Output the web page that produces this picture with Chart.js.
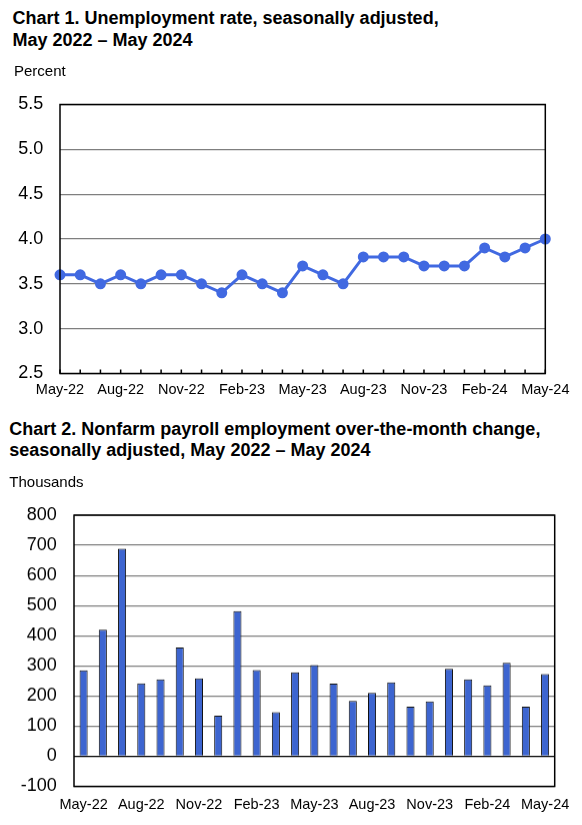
<!DOCTYPE html>
<html>
<head>
<meta charset="utf-8">
<script src="https://cdn.jsdelivr.net/npm/chart.js@4"></script>
<style>
    body { margin: 0; background: #fff; font-family: "Liberation Sans", Arial, sans-serif; }
    #page { position: relative; width: 582px; height: 825px; overflow: hidden; }
    .title { position: absolute; font-weight: bold; font-size: 18px; color: #000; white-space: nowrap; }
    .unit { position: absolute; font-size: 15px; color: #000; }
    .box { position: absolute; left: 0; width: 582px; }
</style>
</head>
<body>
<div id="page">
    <div class="box" style="top:76.8px; height:335px;"><canvas id="rateChart"></canvas></div>
    <div class="box" style="top:487.2px; height:337.8px;"><canvas id="payrollChart"></canvas></div>

    <div class="title" style="left:12.5px; top:7px; line-height:22px;">Chart 1. Unemployment rate, seasonally adjusted,<br>May 2022 – May 2024</div>
    <div class="unit" style="left:14px; top:62.4px;">Percent</div>

    <div class="title" style="left:9.3px; top:419px; line-height:20.5px;">Chart 2. Nonfarm payroll employment over-the-month change,<br>seasonally adjusted, May 2022 – May 2024</div>
    <div class="unit" style="left:9.3px; top:473.4px;">Thousands</div>
</div>
<script>
// Data
const months = ['May-22', 'Jun-22', 'Jul-22', 'Aug-22', 'Sep-22', 'Oct-22', 'Nov-22', 'Dec-22', 'Jan-23',
    'Feb-23', 'Mar-23', 'Apr-23', 'May-23', 'Jun-23', 'Jul-23', 'Aug-23', 'Sep-23', 'Oct-23', 'Nov-23',
    'Dec-23', 'Jan-24', 'Feb-24', 'Mar-24', 'Apr-24', 'May-24'];
const unemploymentRate = [3.6, 3.6, 3.5, 3.6, 3.5, 3.6, 3.6, 3.5, 3.4, 3.6, 3.5, 3.4, 3.7,
    3.6, 3.5, 3.8, 3.8, 3.8, 3.7, 3.7, 3.7, 3.9, 3.8, 3.9, 4.0];
const payrollChange = [285, 420, 689, 242, 255, 361, 259, 135, 482, 286, 146, 279, 303,
    241, 184, 210, 245, 165, 182, 290, 255, 235, 310, 165, 273];

const FONT = '"Liberation Sans", Arial, sans-serif';

// Black frame round the plot area, optional inward tick marks on the x axis
const frame = {
    id: 'frame',
    afterDraw(chart, args, opts) {
        const { ctx, chartArea: a } = chart;
        ctx.save();
        ctx.strokeStyle = '#000';
        ctx.lineWidth = 1.5;
        if (opts.ticks) {
            const xs = chart.scales.x;
            ctx.beginPath();
            xs.ticks.forEach((t, i) => {
                const x = xs.getPixelForTick(i);
                ctx.moveTo(x, a.bottom);
                ctx.lineTo(x, a.bottom - 4);
            });
            ctx.stroke();
        }
        ctx.strokeRect(a.left, a.top, a.right - a.left, a.bottom - a.top);
        ctx.restore();
    }
};

function everyThird(val, i) {
    return i % 3 === 0 ? months[i] : '';
}

// Chart 1
new Chart(document.getElementById('rateChart'), {
    type: 'line',
    data: {
        labels: months,
        datasets: [{
            data: unemploymentRate,
            borderColor: '#4169E1',
            backgroundColor: '#4169E1',
            borderWidth: 3,
            pointRadius: 4,
            tension: 0
        }]
    },
    options: {
        responsive: true,
        maintainAspectRatio: false,
        animation: false,
        layout: { padding: { top: 0, right: 36.7, left: 0, bottom: 0 } },
        plugins: { legend: { display: false }, tooltip: { enabled: false }, frame: { ticks: true } },
        scales: {
            x: {
                offset: false,
                grid: { display: false, drawTicks: false },
                border: { display: false },
                ticks: { autoSkip: false, maxRotation: 0, padding: 8, color: '#000',
                    font: { family: FONT, size: 14.5 }, callback: everyThird },
                afterFit: s => { s.height = 38.5; }
            },
            y: {
                min: 2.5, max: 5.5,
                grid: { color: '#7f7f7f', lineWidth: 1.3, drawTicks: false },
                border: { display: false },
                ticks: { stepSize: 0.5, padding: 16.7, color: '#000',
                    font: { family: FONT, size: 18 }, callback: v => v.toFixed(1) },
                afterFit: s => { s.width = 60; }
            }
        }
    },
    plugins: [frame]
});

// Chart 2
new Chart(document.getElementById('payrollChart'), {
    type: 'bar',
    data: {
        labels: months,
        datasets: [{
            data: payrollChange,
            backgroundColor: '#3D65D0',
            borderColor: '#111',
            borderWidth: 1,
            categoryPercentage: 1,
            barPercentage: 0.42
        }]
    },
    options: {
        responsive: true,
        maintainAspectRatio: false,
        animation: false,
        layout: { padding: { top: 0, right: 27.3, left: 0, bottom: 0 } },
        plugins: { legend: { display: false }, tooltip: { enabled: false }, frame: { ticks: false } },
        scales: {
            x: {
                grid: { display: false, drawTicks: false },
                border: { display: false },
                ticks: { autoSkip: false, maxRotation: 0, padding: 9.5, color: '#000',
                    font: { family: FONT, size: 14.5 }, callback: everyThird },
                afterFit: s => { s.height = 39.3; }
            },
            y: {
                min: -100, max: 800,
                grid: { color: c => c.tick.value === 0 ? '#000' : '#7f7f7f', lineWidth: 1.3, drawTicks: false },
                border: { display: false },
                ticks: { stepSize: 100, padding: 17.3, color: '#000', font: { family: FONT, size: 18 } },
                afterFit: s => { s.width = 74; }
            }
        }
    },
    plugins: [frame]
});
</script>
</body>
</html>
